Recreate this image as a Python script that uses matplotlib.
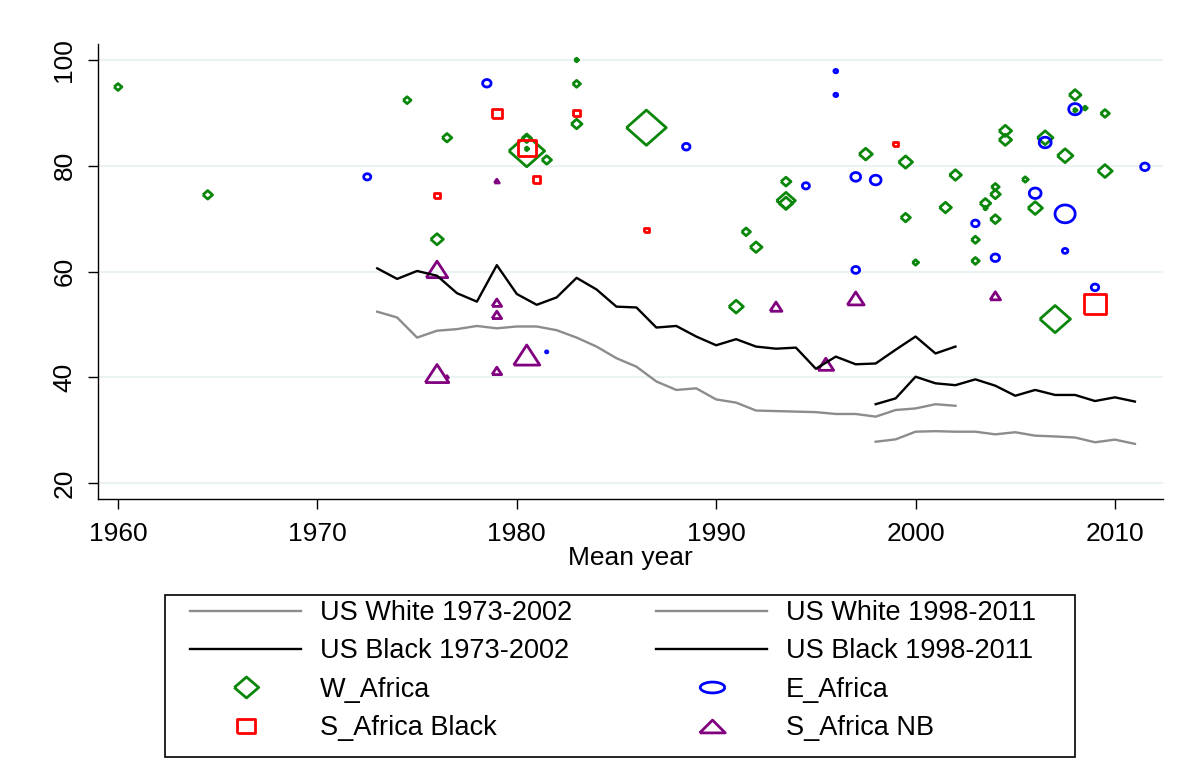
import numpy as np
import matplotlib
matplotlib.use("Agg")
import matplotlib.pyplot as plt
from matplotlib.lines import Line2D
from matplotlib.patches import Rectangle

plt.rcParams['font.family'] = ['Liberation Sans', 'DejaVu Sans']

# US series (mean year, value)
us_years_73 = list(range(1973, 2003))
us_white_73 = [52.4, 51.3, 47.5, 48.8, 49.1, 49.7, 49.25, 49.6, 49.6, 48.9,
               47.5, 45.8, 43.6, 42.0, 39.2, 37.6, 37.9, 35.8, 35.2, 33.7,
               33.6, 33.5, 33.4, 33.05, 33.05, 32.55, 33.8, 34.1, 34.9, 34.6]
us_black_73 = [60.6, 58.6, 60.1, 59.2, 55.9, 54.3, 61.2, 55.75, 53.7, 55.1,
               58.8, 56.6, 53.35, 53.2, 49.4, 49.7, 47.7, 46.05, 47.2, 45.8,
               45.4, 45.6, 41.6, 43.9, 42.45, 42.6, 45.2, 47.7, 44.5, 45.8]
us_years_98 = list(range(1998, 2012))
us_white_98 = [27.8, 28.25, 29.7, 29.8, 29.7, 29.7, 29.2, 29.6, 28.95, 28.8,
               28.6, 27.7, 28.2, 27.4]
us_black_98 = [34.9, 36.0, 40.1, 38.85, 38.5, 39.6, 38.4, 36.5, 37.6, 36.65,
               36.65, 35.5, 36.2, 35.4]

# African samples: mean year, value, analytic weight
wa_year = [1960.0, 1964.5, 1974.5, 1976.5, 1976.0, 1980.5, 1980.5, 1980.5, 1981.5, 1983.0,
           1983.0, 1983.0, 1986.5, 1991.0, 1991.5, 1992.0, 1993.5, 1993.5, 1993.5, 1997.5,
           1999.5, 1999.5, 2000.0, 2001.5, 2002.0, 2003.0, 2003.0, 2003.5, 2003.5, 2004.0,
           2004.0, 2004.0, 2004.5, 2004.5, 2005.5, 2006.0, 2006.5, 2007.0, 2007.5, 2008.0,
           2008.0, 2008.5, 2009.5, 2009.5]
wa_val = [94.9, 74.5, 92.4, 85.3, 66.1, 82.8, 85.2, 83.2, 81.1, 100.0,
          95.5, 87.9, 87.2, 53.35, 67.5, 64.6, 77.0, 73.4, 72.9, 82.2,
          80.7, 70.2, 61.7, 72.1, 78.25, 66.0, 62.0, 72.9, 72.0, 76.0,
          74.6, 69.9, 86.6, 84.9, 77.4, 72.0, 85.3, 51.0, 81.9, 93.4,
          90.5, 90.9, 89.9, 79.0]
wa_wt = [5, 7, 5, 7, 11, 72, 7, 2, 7, 2,
         5, 8.5, 88, 14, 6, 10, 7.5, 22, 13, 12,
         13, 7, 3.5, 10, 10, 5.3, 5, 8.5, 2, 5,
         7.5, 7.5, 11, 11, 3.5, 14, 16, 54, 16, 10,
         2, 2.2, 6, 14]

ea_year = [1972.5, 1978.5, 1981.5, 1988.5, 1994.5, 1996.0, 1996.0, 1997.0, 1997.0, 1998.0,
           2003.0, 2004.0, 2006.0, 2006.5, 2007.5, 2007.5, 2008.0, 2009.0, 2011.5]
ea_val = [77.9, 95.6, 44.8, 83.6, 76.2, 97.9, 93.4, 77.9, 60.3, 77.3,
          69.1, 62.6, 74.8, 84.4, 70.9, 63.9, 90.7, 57.0, 79.8]
ea_wt = [4.3, 5.7, 1, 4.7, 4.3, 1.8, 1.8, 7.2, 5, 8.5,
         4.7, 5.7, 9.8, 10, 25, 3, 11, 4.7, 5.7]

sab_year = [1976.0, 1979.0, 1980.5, 1981.0, 1983.0, 1986.5, 1999.0, 2009.0]
sab_val = [74.3, 89.9, 83.3, 77.4, 90.0, 67.85, 84.1, 53.85]
sab_wt = [3.2, 8, 20, 4.3, 4, 3, 2.7, 29]

sanb_year = [1976.0, 1976.0, 1976.5, 1979.0, 1979.0, 1979.0, 1979.0, 1980.5, 1993.0, 1995.5,
             1997.0, 2004.0]
sanb_val = [60.4, 40.7, 40.1, 77.1, 54.1, 51.8, 41.2, 44.2, 53.35, 42.45,
            54.9, 55.4]
sanb_wt = [28, 33, 1.2, 2.5, 7, 7, 7, 40, 10, 16,
           18, 8]

xticks = [1960, 1970, 1980, 1990, 2000, 2010]
yticks = [20, 40, 60, 80, 100]

# stretched marker shapes (wider than tall)
t = np.linspace(0, 2 * np.pi, 60)
m_diamond = [(-1.13, 0), (0, 1), (1.13, 0), (0, -1), (-1.13, 0)]
m_square = [(-1.13, -1), (-1.13, 1), (1.13, 1), (1.13, -1), (-1.13, -1)]
m_circle = list(zip(1.13 * np.cos(t), np.sin(t)))
m_tri = [(-0.65, -0.5), (0, 0.5), (0.65, -0.5), (-0.65, -0.5)]

lw_m = 2.0
dpi = 100


def wt_to_s(wt):
    w_px = np.sqrt(20 * np.asarray(wt, dtype=float))
    w_pt = np.maximum(w_px - 2.2, 1.0) * 72 / dpi
    return w_pt ** 2


fig = plt.figure(figsize=(11.85, 7.75), dpi=dpi)
ax = fig.add_axes([98 / 1185, 1 - 499 / 775, 1065 / 1185, 455 / 775])

ax.plot(us_years_73, us_white_73, color='#8C8C8C', lw=1.7)
ax.plot(us_years_98, us_white_98, color='#8C8C8C', lw=1.7)
ax.plot(us_years_73, us_black_73, color='black', lw=1.7)
ax.plot(us_years_98, us_black_98, color='black', lw=1.7)

ax.scatter(wa_year, wa_val, s=wt_to_s(wa_wt), marker=m_diamond, facecolors='none',
           edgecolors='#0A870A', linewidths=lw_m)
ax.scatter(ea_year, ea_val, s=wt_to_s(ea_wt), marker=m_circle, facecolors='none',
           edgecolors='#0000FF', linewidths=lw_m)
ax.scatter(sab_year, sab_val, s=wt_to_s(sab_wt), marker=m_square, facecolors='none',
           edgecolors='#FF0000', linewidths=lw_m)
ax.scatter(sanb_year, sanb_val, s=wt_to_s(sanb_wt), marker=m_tri, facecolors='none',
           edgecolors='#800080', linewidths=lw_m)

ax.set_xlim(1958.997, 2012.41)
ax.set_ylim(16.97, 103.03)
ax.set_xticks(xticks)
ax.set_yticks(yticks)
ax.grid(axis='y', color='#EAF2F3', lw=1.5)
ax.set_axisbelow(True)
for sp in ['top', 'right']:
    ax.spines[sp].set_visible(False)
for sp in ['left', 'bottom']:
    ax.spines[sp].set_linewidth(1.0)
ax.tick_params(length=7.5, width=1.0, labelsize=19)
ax.tick_params(axis='x', pad=9)
ax.tick_params(axis='y', pad=8)
for lab in ax.get_yticklabels():
    lab.set_rotation(90)
    lab.set_va('center')
ax.set_xlabel('Mean year', fontsize=19)
ax.xaxis.set_label_coords(0.5, -0.103)

# legend
handles = [
    Line2D([], [], color='#8C8C8C', lw=1.7),
    Line2D([], [], color='black', lw=1.7),
    Line2D([], [], ls='none', marker=[(-1.17, 0), (0, 1), (1.17, 0), (0, -1), (-1.17, 0)],
           markersize=17.6, mfc='none', mec='#0A870A', mew=lw_m),
    Line2D([], [], ls='none', marker=[(-1.4, -1), (-1.4, 1), (1.4, 1), (1.4, -1), (-1.4, -1)],
           markersize=13.3, mfc='none', mec='#FF0000', mew=lw_m),
    Line2D([], [], color='#8C8C8C', lw=1.7),
    Line2D([], [], color='black', lw=1.7),
    Line2D([], [], ls='none', marker=list(zip(2.25 * np.cos(t), np.sin(t))),
           markersize=17.6, mfc='none', mec='#0000FF', mew=lw_m),
    Line2D([], [], ls='none', marker=[(-1, -0.5), (0, 0.5), (1, -0.5), (-1, -0.5)],
           markersize=18.4, mfc='none', mec='#800080', mew=lw_m),
]
labels = ['US White 1973-2002', 'US Black 1973-2002', 'W_Africa', 'S_Africa Black',
          'US White 1998-2011', 'US Black 1998-2011', 'E_Africa', 'S_Africa NB']
fig.legend(handles, labels, ncol=2, loc='upper left',
           bbox_to_anchor=(190 / 1185, 1 - 600 / 775), frameon=False,
           borderpad=0, borderaxespad=0, fontsize=19.5, handlelength=4.1,
           handletextpad=0.7, columnspacing=3.1, labelspacing=0.46)
fig.patches.append(Rectangle((165 / 1185, 1 - 757 / 775), 910 / 1185, 162 / 775,
                             transform=fig.transFigure, fill=False,
                             edgecolor='black', lw=1.2))

fig.savefig('out.png', dpi=dpi)
